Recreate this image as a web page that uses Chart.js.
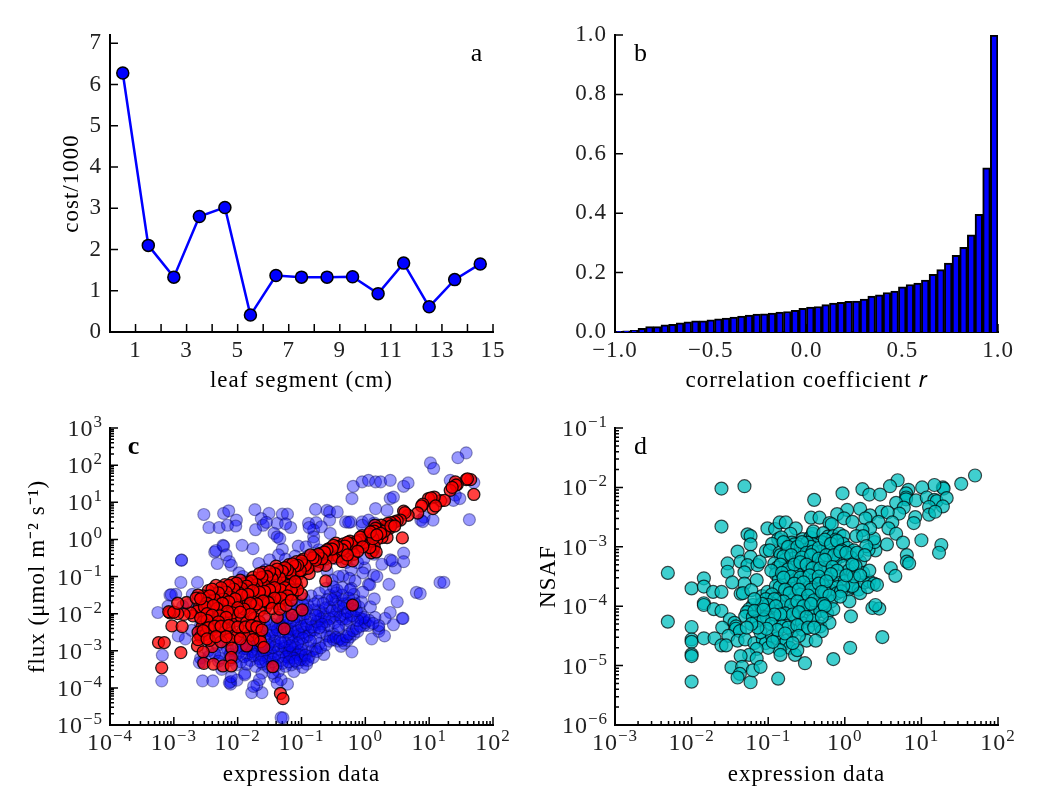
<!DOCTYPE html>
<html>
<head>
<meta charset="utf-8">
<title>Leaf figure</title>
<script src="https://cdn.jsdelivr.net/npm/chart.js@4/dist/chart.umd.min.js"></script>
<style>
  body { margin: 0; background: #fff; width: 1038px; height: 810px; position: relative; overflow: hidden; }
  canvas { position: absolute; }
</style>
</head>
<body>
<canvas id="panelA" width="519" height="405" style="left:0;top:0"></canvas>
<canvas id="panelB" width="519" height="405" style="left:519px;top:0"></canvas>
<canvas id="panelC" width="519" height="405" style="left:0;top:405px"></canvas>
<canvas id="panelD" width="519" height="405" style="left:519px;top:405px"></canvas>
<script>
// panel a
const segmentMid = [0.5,1.5,2.5,3.5,4.5,5.5,6.5,7.5,8.5,9.5,10.5,11.5,12.5,13.5,14.5];
const segmentCost = [6.28,2.10,1.33,2.80,3.02,0.41,1.37,1.33,1.33,1.34,0.93,1.67,0.61,1.27,1.65];
const segmentTicks = [1,2,3,4,5,6,7,8,9,10,11,12,13,14,15];
const costTicks = [0,1,2,3,4,5,6,7];

// panel b
const corrBins = [-0.98,-0.94,-0.90,-0.86,-0.82,-0.78,-0.74,-0.70,-0.66,-0.62,-0.58,-0.54,-0.50,-0.46,-0.42,-0.38,-0.34,-0.30,-0.26,-0.22,-0.18,-0.14,-0.10,-0.06,-0.02,
  0.02,0.06,0.10,0.14,0.18,0.22,0.26,0.30,0.34,0.38,0.42,0.46,0.50,0.54,0.58,0.62,0.66,0.70,0.74,0.78,0.82,0.86,0.90,0.94,0.98];
const corrHeights = [0.002,0.004,0.006,0.012,0.018,0.018,0.024,0.026,0.031,0.034,0.038,0.038,0.041,0.044,0.047,0.050,0.054,0.057,0.060,0.061,0.064,0.067,0.069,0.073,0.080,
  0.084,0.086,0.092,0.097,0.100,0.103,0.104,0.111,0.121,0.125,0.133,0.138,0.152,0.160,0.165,0.175,0.194,0.210,0.232,0.258,0.285,0.327,0.396,0.553,1.000];
const corrXTicks = [-1,-0.5,0,0.5,1];
const corrYTicks = [0,0.2,0.4,0.6,0.8,1];

// panels c and d, all pairs are [log10 expression, log10 value]
const fluxBlue = [[1.58,2.33],[1.45,2.20],[1.02,2.06],[1.07,1.91],[-0.19,1.43],[-0.05,1.55],[0.05,1.59],[0.16,1.55],[0.24,1.55],[0.39,1.59],[0.60,1.43],[0.67,1.52],[-0.21,1.10],[0.39,1.10],[0.44,1.14],[1.33,1.59],[1.70,1.53],[1.63,0.53],[1.41,1.19],[1.38,1.05],[1.48,1.10],
[0.16,0.83],[0.34,0.78],[-0.78,0.81],[-0.60,0.78],[-0.56,0.74],[-0.56,0.52],[-0.44,0.74],[-2.53,0.67],[-2.22,0.70],[-2.14,0.77],[-2.45,0.32],[-2.29,0.32],[-2.16,0.38],[-2.02,0.52],[-2.03,0.36],[-1.73,0.80],[-1.51,0.70],[-1.63,0.56],[-1.60,0.38],[-1.72,0.26],[-1.38,0.43],[-1.30,0.68],[-1.22,0.68],[-1.17,0.32],[-1.43,0.16],[-1.38,0.07],[-1.34,0.02],[-0.89,0.43],[-0.77,0.45],[-0.81,0.25],[-0.81,0.07],[-0.81,-0.07],[-0.55,0.16],[-0.31,0.47],[-0.23,0.47],[-0.05,0.47],[-0.05,0.38],[0.05,0.52],[-0.26,0.46],[-0.88,0.32],[-0.69,0.34],[-1.55,0.46],[-1.25,0.42],[0.14,0.44],[0.15,0.38],[0.87,0.52],[0.92,0.60],[1.06,0.52],[0.90,0.48],
[-2.23,-0.16],[-2.36,-0.34],[-2.22,-0.18],[-2.32,-0.65],[-2.34,-0.30],[-1.93,-0.16],[-1.76,-0.25],[-1.67,-0.65],[-2.88,-0.56],[-2.88,-0.56],[-2.89,-1.16],[-2.63,-1.16],[-3.06,-1.50],[-2.97,-1.48],[-3.04,-1.49],[-2.71,-1.48],[-3.25,-1.97],[-3.18,-3.12],[-3.19,-3.81],[-2.55,-3.81],[-2.39,-3.81],[-2.11,-3.83],[-2.11,-3.90],[-2.13,-3.86],[-2.01,-3.79],[-1.78,-4.13],[-1.62,-4.13],[-1.89,-3.61],[-1.89,-3.65],[-1.32,-4.80],[-1.29,-4.81],[-1.22,-3.90],[-0.21,-3.03],[-0.65,-3.10],[0.50,-1.68],[0.80,-1.43],[0.86,-1.46],[1.17,-1.16],[1.23,-1.16],[0.37,-1.21],[0.05,-1.21],[0.07,-1.22],[0.13,-0.96],[0.18,-1.00],[0.58,-2.13],[0.59,-2.13],[0.39,-1.97],[0.31,-2.13],[0.21,-2.48],[0.21,-2.40],[0.21,-2.32],[0.15,-2.10],[0.05,-2.32],[-0.08,-2.13],
[0.60,-0.37],[0.60,-0.60],[0.47,-0.77],[0.39,-0.55],[0.26,-0.67],[-0.01,-0.77],[-0.12,-0.63],[0.42,-0.58],[0.14,-0.40],[-0.04,-0.90],[-0.22,-0.82],[-0.35,-0.98],[-0.42,-1.00],[-0.25,-1.05],[-0.60,-0.85],[-0.52,-1.10],[-0.16,-1.12],[-0.22,-1.32],[-1.30,-0.27],[-1.36,-0.42],[-1.25,-0.53],[-1.50,-0.55],[-1.20,-0.70],[-1.05,-0.18],[-0.93,-0.20],[-0.90,-0.45],[-0.73,-0.28],[-0.68,-0.37],[-2.18,-0.42],[-2.10,-0.70],[-2.13,-0.60],[-1.98,-0.90],[-1.92,-1.00],[-1.85,-1.12],[-1.56,-0.82],[-2.78,-1.76],[-2.86,-1.80],[-2.62,-1.86],[-3.09,-1.80],[-2.93,-2.60],[-2.82,-2.68],[-2.58,-3.20],[-2.54,-3.30],[-2.60,-3.32],[-2.25,-3.50],[-2.10,-3.70],[-1.62,-3.60],[-1.70,-3.92],[-1.66,-3.78],[-1.75,-3.96],[-1.42,-3.70],[-1.36,-3.55],[-1.32,-3.78],[-1.12,-3.56],
[-0.44,-1.37],[-0.47,-1.55],[-0.46,-1.68],[-0.56,-1.50],[-0.60,-1.62],[-0.36,-1.64],[-0.28,-1.72],[-0.18,-1.48],[-0.18,-1.63],[-0.10,-1.82],[-0.22,-1.88],[-0.34,-1.86],[-0.44,-1.92],[-0.56,-1.83],[-0.46,-2.02],[-0.32,-2.00],[-0.18,-2.07],[-0.07,-2.00],[-0.04,-2.15],[-0.24,-2.22],[-0.36,-2.15],[-0.50,-2.10],[-0.66,-1.98],[-0.74,-2.06],[-0.62,-2.22],[-0.80,-1.90],[-0.90,-1.78],[-1.02,-2.15],[-0.90,-2.22],[-0.78,-2.30],[-0.65,-2.36],[-0.55,-2.62],[-0.50,-2.55],[-0.44,-2.74],[-0.38,-2.88],[-0.33,-2.80],[-0.28,-2.72],[-0.24,-2.63],[-0.18,-2.55],[-0.12,-2.48],[-0.30,-2.30],[-0.42,-2.44],[-0.60,-2.60],[-0.72,-2.80],[-0.78,-2.95],[-0.84,-3.00],[-0.88,-3.15],[-0.96,-3.25],[-1.00,-3.14],[-1.10,-3.05],[-1.20,-3.20],
[-1.30,-2.50],[-1.42,-2.60],[-1.55,-2.70],[-1.18,-2.62],[-1.10,-2.48],[-1.22,-2.40],[-1.33,-2.28],[-1.04,-2.68],[-1.14,-2.78],[-1.28,-2.88],[-1.40,-2.85],[-1.50,-2.95],[-1.60,-3.02],[-1.72,-3.10],[-1.85,-3.12],[-1.98,-3.05],[-2.10,-3.00],[-1.90,-2.95],[-1.75,-2.88],[-1.22,-2.98],[-1.10,-2.90],[-0.98,-2.82],[-0.90,-2.92],[-1.04,-3.02],[-1.18,-3.10],[-1.30,-3.04],[-1.42,-3.14],[-1.52,-3.20],[-1.66,-3.22],[-1.80,-3.26],[-1.95,-3.30],[-2.12,-3.25],[-2.28,-3.20],[-2.45,-3.15],[-1.46,-3.30],[-1.32,-3.26],[-1.16,-3.38],[-1.06,-3.34],[-0.92,-3.36],[-1.25,-3.42],[-1.60,-3.36],[-1.72,-3.42],[-1.50,-2.45],[-1.62,-2.52],[-1.40,-2.36],[-1.30,-2.18],[-1.18,-2.25],[-1.08,-2.30],[-0.96,-2.40],[-0.86,-2.48],[-0.92,-2.62],[-0.98,-2.12],[-1.14,-2.02],[-1.26,-2.10],[-1.38,-2.18],[-1.58,-2.32],[-1.68,-2.20],[-1.78,-2.42],[-1.85,-2.60],[-1.70,-2.65],[-1.95,-2.72],[-2.05,-2.60],[-2.20,-2.75],[-2.32,-2.86],[-2.46,-3.00],
[-0.85,-1.52],[-0.96,-1.60],[-1.08,-1.68],[-0.72,-1.45],[-0.62,-1.32],[-0.74,-1.66],[-1.18,-1.85],[-1.30,-1.95],[-1.50,-1.72],[-1.68,-1.60],[-1.88,-1.82],[-2.05,-1.92],[-2.25,-2.02],[-2.42,-2.15],[-2.58,-2.30],[-2.40,-1.62],[-2.20,-1.48],[-1.98,-1.28],[-2.60,-2.55],[-2.72,-2.45],[-2.30,-2.45],[-2.10,-2.25],[-1.92,-2.18],[-0.98,-3.45],[-1.38,-3.88],[-1.45,-3.60],[-0.02,-0.52],[-0.30,-0.62],[-0.46,-0.52],[-0.72,-0.70],[-0.92,-0.62],[-1.10,-0.45],[-1.18,-1.02],[-1.38,-1.10],[0.44,-2.30],[0.30,-2.60],[0.10,-2.68],[-0.02,-2.32]];

// the dark part of the blue cloud, under the red band
const fluxBlueDense = [[-1.86,-2.95],[-1.78,-3.02],[-1.70,-2.96],[-1.62,-2.90],[-1.56,-2.98],[-1.48,-3.06],[-1.44,-2.92],[-1.36,-2.96],[-1.26,-2.92],[-1.20,-3.04],[-1.14,-2.96],[-1.06,-3.10],[-1.00,-2.98],[-1.42,-2.74],[-1.34,-2.66],[-1.26,-2.76],[-1.20,-2.68],[-1.12,-2.62],[-1.04,-2.56],[-0.96,-2.50],[-0.88,-2.58],[-0.80,-2.44],[-1.50,-2.60],[-1.46,-2.50],[-1.38,-2.44],[-1.30,-2.36],[-1.22,-2.50],[-1.16,-2.42],[-1.06,-2.46],[-1.00,-2.34],[-0.92,-2.30],[-0.84,-2.36],[-0.76,-2.22],[-0.70,-2.14],[-0.64,-2.08],[-0.86,-2.14],[-0.94,-2.00],[-1.08,-2.08],[-1.00,-1.92],[-1.58,-2.62],[-1.66,-2.74],[-1.74,-2.78],[-1.82,-2.84],[-1.94,-2.86],[-2.02,-2.92],[-2.16,-2.94],[-2.26,-3.06],[-2.36,-3.08],[-2.04,-3.18],[-1.90,-3.16],[-1.76,-3.14],[-1.62,-3.12],[-1.56,-3.28],[-1.44,-3.22],[-1.36,-3.18],[-1.24,-3.16],[-1.12,-3.20],[-1.02,-3.24],[-0.94,-3.12],[-1.30,-3.34],[-1.40,-3.40],[-1.52,-3.44],[-1.20,-3.30],[-1.10,-3.28],[-1.64,-3.30],[-1.86,-3.36],[-2.02,-3.38],[-0.82,-3.18],[-0.90,-3.26],[-0.76,-3.02],[-0.70,-2.92],[-0.62,-2.84],[-0.56,-2.74],[-0.50,-2.70],[-0.46,-2.64],[-0.40,-2.68],[-0.36,-2.72],[-0.30,-2.62],[-0.26,-2.55],[-0.20,-2.46],[-0.14,-2.40],[-0.08,-2.34],[0.00,-2.24],[0.06,-2.18],[0.12,-2.26],[-0.02,-2.10],[-0.12,-2.18],[-0.22,-2.06],[-0.30,-2.14],[-0.40,-2.08],[-0.48,-2.24],[-0.56,-2.14],[-0.58,-2.32],[-0.68,-2.28],[-0.72,-1.92],[-0.62,-1.84],[-0.52,-1.92],[-0.42,-1.80],[-0.34,-1.74],[-0.28,-1.96],[-0.14,-1.92],[-0.06,-1.68],[-0.16,-1.74],[-0.26,-1.58],[-0.36,-1.50],[-0.46,-1.44],[-0.24,-1.36],[-0.36,-1.30],[-0.50,-1.28],[0.08,-1.82],[0.14,-1.60],[-0.04,-1.42],[-0.42,-2.34],[-0.70,-2.50],[-0.78,-2.66],[-0.86,-2.74],[-0.98,-2.66],[-1.06,-2.80],[-1.18,-2.86],[-1.32,-2.78],[-1.52,-2.84],[-1.64,-2.86],[-2.12,-3.10],[-2.30,-3.28],[-1.46,-2.28],[-1.56,-2.18],[-1.12,-2.18],[-1.20,-2.12],[-0.78,-2.04],[-0.72,-2.38],[-0.92,-1.88],[-0.52,-1.62],[-0.66,-1.72],[-0.80,-1.74],[-0.98,-1.76],[-1.16,-1.74]];

const fluxRed = [[1.70,1.21],[1.65,1.61],[1.58,1.61],[1.60,1.63],[1.44,1.48],[1.41,1.55],[1.42,1.46],[1.33,1.32],[1.36,1.40],[1.18,1.04],[1.24,1.05],[1.08,1.14],[0.99,1.10],[1.03,1.12],[1.06,0.83],[1.10,0.90],[0.90,0.95],[0.88,0.90],[0.82,0.71],[0.67,0.65],[0.60,0.76],[0.62,0.72],[0.55,0.52],[0.50,0.50],[0.46,0.47],[0.58,0.04],[0.40,0.45],[0.38,0.30],[0.35,0.43],[0.30,0.33],[0.28,0.28],[0.25,0.38],[0.22,0.26],[0.34,0.05],[0.26,0.05],[0.20,0.20],[0.18,0.00],[0.15,0.38],[0.16,0.30],[0.14,0.22],[0.10,0.10],[0.12,-0.30],[0.14,-0.20],[0.02,0.05],[-0.02,0.02],[-0.05,0.10],[0.02,-0.10],[0.05,-0.12],[0.09,-0.36],[0.17,-0.34],[0.07,-0.22],
[-0.10,-0.15],[-0.13,-0.22],[-0.17,-0.10],[-0.20,-0.22],[-0.23,-0.30],[-0.27,-0.20],[-0.30,-0.26],[-0.33,-0.38],[-0.38,-0.22],[-0.42,-0.32],[-0.46,-0.28],[-0.50,-0.42],[-0.54,-0.30],[-0.58,-0.36],[-0.62,-0.52],[-0.66,-0.44],[-0.70,-0.38],[-0.72,-0.60],[-0.76,-0.50],[-0.80,-0.44],[-0.84,-0.58],[-0.88,-0.72],[-0.92,-0.62],[-0.97,-0.53],[-1.00,-0.66],[-1.04,-0.74],[-1.08,-0.60],[-1.12,-0.84],[-1.16,-0.78],[-1.20,-0.68],[-1.25,-0.92],[-1.28,-0.78],[-1.32,-0.95],[-1.36,-0.88],[-1.40,-0.72],[-0.46,-0.10],[-0.40,-0.18],[-0.34,-0.12],[-0.56,-0.24],[-0.24,-0.05],[-0.18,-0.40],[-0.30,-0.52],[-0.42,-0.46],[-0.20,-0.58],[-0.52,-0.50],[-0.36,-0.60],[-0.62,-0.70],[-0.62,-1.12],[-0.20,-1.77],[-0.75,-0.72],[-0.88,-0.92],[-0.98,-0.82],[-1.06,-0.96],
[-1.12,-1.05],[-1.18,-1.12],[-1.24,-1.00],[-1.30,-1.16],[-1.34,-1.25],[-1.40,-1.02],[-1.44,-1.14],[-1.48,-0.96],[-1.52,-1.22],[-1.56,-1.08],[-1.60,-0.88],[-1.64,-1.18],[-1.68,-1.28],[-1.72,-1.10],[-1.76,-1.02],[-1.80,-1.24],[-1.84,-1.16],[-1.88,-1.34],[-1.92,-1.20],[-1.96,-1.10],[-2.00,-1.28],[-2.04,-1.44],[-2.08,-1.16],[-2.12,-1.30],[-2.15,-1.48],[-2.20,-1.22],[-2.24,-1.38],[-2.28,-1.56],[-2.34,-1.24],[-2.38,-1.46],[-2.42,-1.62],[-2.46,-1.38],[-2.50,-1.54],[-2.56,-1.70],[-2.60,-1.82],[-2.54,-1.52],
[-1.30,-1.44],[-1.38,-1.50],[-1.46,-1.42],[-1.54,-1.56],[-1.62,-1.48],[-1.70,-1.62],[-1.78,-1.52],[-1.85,-1.68],[-1.92,-1.58],[-1.08,-1.22],[-1.00,-1.16],[-1.00,-1.48],[-1.14,-1.48],[-1.25,-1.62],[-1.36,-1.74],[-1.46,-1.70],[-1.56,-1.84],[-1.66,-1.92],[-1.74,-1.80],[-1.84,-1.92],[-1.94,-1.78],[-2.02,-1.70],[-2.10,-1.88],[-2.18,-1.76],[-2.26,-1.92],[-2.34,-1.74],[-2.44,-1.90],[-2.52,-2.08],[-2.64,-1.94],[-2.70,-2.06],[-2.74,-1.98],[-2.84,-2.02],[-2.94,-2.00],[-3.06,-1.98],[-3.08,-1.95],[-3.00,-1.96],[-2.80,-1.70],[-2.62,-1.50],[-2.54,-2.22],[-2.56,-2.36],[-2.42,-2.24],[-2.34,-2.10],[-2.22,-2.22],[-2.12,-2.08],[-2.04,-2.20],[-1.94,-2.10],[-1.86,-2.24],[-1.74,-2.12],[-1.66,-2.22],[-1.58,-2.08],[-1.15,-2.04],[-0.99,-1.90],[-1.38,-2.10],[-1.27,-2.41],
[-2.62,-2.50],[-2.58,-2.62],[-2.50,-2.56],[-2.40,-2.44],[-2.30,-2.58],[-2.20,-2.42],[-2.10,-2.52],[-2.02,-2.62],[-1.92,-2.48],[-1.82,-2.60],[-1.72,-2.50],[-1.66,-2.66],[-2.13,-2.69],[-2.40,-2.89],[-2.63,-2.87],[-2.54,-3.03],[-2.09,-2.93],[-1.86,-2.87],[-1.64,-2.76],[-1.59,-2.91],[-2.62,-2.70],[-2.44,-2.72],[-2.26,-2.76],[-2.10,-3.18],[-2.53,-3.34],[-2.38,-3.36],[-2.23,-3.41],[-2.10,-3.41],[-1.45,-3.43],[-1.33,-4.15],[-1.29,-4.29],[-3.24,-2.78],[-3.15,-2.78],[-3.03,-2.33],[-2.87,-2.35],[-3.19,-3.46],[-2.89,-3.05],[-2.94,-1.72],[-2.65,-1.58]];

// more of the thick part of the red band
const fluxRedDense = [[-0.02,-0.08],[-0.08,-0.02],[-0.14,-0.06],[-0.22,-0.12],[-0.28,-0.08],[-0.32,-0.18],[-0.36,-0.28],[-0.44,-0.20],[-0.50,-0.16],[-0.52,-0.26],[-0.60,-0.28],[-0.64,-0.34],[-0.68,-0.52],[-0.74,-0.40],[-0.78,-0.56],[-0.82,-0.50],[-0.86,-0.42],[-0.90,-0.78],[-0.94,-0.70],[-1.00,-0.58],[-1.02,-0.84],[-1.06,-0.70],[-1.10,-0.72],[-1.14,-0.66],[-1.18,-0.90],[-1.22,-0.82],[-1.26,-0.76],[-1.30,-0.86],[-1.34,-1.04],[-1.38,-0.80],[-1.42,-0.92],[-1.46,-1.06],[-1.50,-0.86],[-1.54,-1.00],[-1.58,-1.24],[-1.62,-1.02],[-1.66,-0.92],[-1.70,-1.22],[-1.74,-1.32],[-1.78,-1.12],[-1.82,-1.38],[-1.86,-1.26],[-1.90,-1.44],[-1.94,-1.32],[-1.98,-1.44],[-2.02,-1.18],[-2.06,-1.34],[-2.10,-1.56],[-2.14,-1.24],[-2.18,-1.42],[-2.22,-1.60],[-2.26,-1.30],[-2.30,-1.44],[-2.36,-1.62],[-2.40,-1.34],[-2.44,-1.52],[-2.48,-1.72],[-2.52,-1.82],[-2.58,-1.60],[-1.20,-1.24],[-1.26,-1.30],[-1.32,-1.36],[-1.42,-1.30],[-1.50,-1.36],[-1.58,-1.40],[-1.66,-1.42],[-1.76,-1.38],[-1.84,-1.48],[-1.94,-1.50],[-2.04,-1.60],[-2.14,-1.68],[-2.24,-1.72],[-2.32,-1.86],[-2.38,-1.78],[-2.48,-2.00],[-1.06,-1.36],[-1.16,-1.36],[-1.10,-1.14],[-1.22,-1.52],[-1.32,-1.58],[-1.42,-1.58],[-1.52,-1.70],[-1.60,-1.66],[-1.70,-1.74],[-1.80,-1.72],[-1.90,-1.88],[-2.00,-1.84],[-2.08,-1.98],[-2.16,-1.94],[-2.28,-2.06],[-2.40,-2.04],[-2.48,-2.18],[-2.58,-2.12],[-1.46,-1.86],[-1.34,-1.88],[-1.24,-1.78],[-1.16,-1.64],[-1.80,-2.02],[-1.96,-1.96],[-2.18,-2.10],[-2.30,-2.22],[-2.46,-2.38],[-2.36,-2.34],[-2.26,-2.34],[-2.14,-2.32],[-2.00,-2.36],[-1.88,-2.36],[-1.78,-2.32],[-1.70,-2.36],[-1.62,-2.44],[-2.54,-2.46],[-2.48,-2.68],[-2.34,-2.62],[-2.18,-2.62],[-1.96,-2.68],[-1.76,-2.70],[0.30,0.22],[0.24,0.16],[0.06,0.14],[-0.08,0.06],[0.40,0.36],[0.46,0.36],[0.12,0.02],[-0.04,-0.20],[-0.12,-0.32],[-0.28,-0.42],[0.08,0.20],[0.18,0.12]];

const nsafTeal = [[1.70,-1.80],[1.52,-1.94],[1.28,-2.00],[1.29,-2.02],[1.17,-1.96],[1.01,-2.00],[0.69,-1.88],[0.59,-1.98],[0.83,-2.04],[0.80,-2.10],[0.80,-2.17],[0.80,-2.20],[0.67,-2.26],[0.93,-2.22],[1.07,-2.17],[1.17,-2.21],[1.20,-2.23],[1.33,-2.18],[1.28,-2.32],[1.10,-2.33],[1.10,-2.46],[1.18,-2.41],[0.77,-2.34],[0.71,-2.44],[0.92,-2.50],[0.90,-2.60],[0.23,-2.03],[0.32,-2.12],[0.46,-2.12],[-0.03,-2.10],[-0.40,-2.21],[0.20,-2.36],[0.03,-2.38],[-0.10,-2.45],[0.48,-2.41],[0.56,-2.42],[0.33,-2.47],[0.27,-2.52],[0.44,-2.58],[0.62,-2.59],[0.57,-2.69],[0.67,-2.78],[0.76,-2.93],[0.55,-2.96],[1.00,-2.89],[1.26,-2.97],[1.23,-3.10],[0.81,-3.14],[0.81,-3.25],[0.84,-3.28],[0.60,-3.36],[0.66,-3.49],[0.40,-3.06],[0.31,-3.05],[0.39,-2.92],[0.38,-2.86],[0.33,-2.69],[0.23,-2.72],[0.15,-2.82],[0.24,-2.82],[0.28,-2.99],[-0.01,-2.52],[0.10,-2.58],[-0.44,-2.51],[-0.33,-2.51],[-0.20,-2.60],[-0.17,-2.62],
[-1.01,-2.69],[-0.91,-2.70],[-0.85,-2.59],[-0.77,-2.59],[-0.64,-2.69],[-0.71,-2.78],[-1.27,-2.79],[-1.23,-2.82],[-1.23,-2.96],[-1.40,-3.08],[-1.53,-3.28],[-1.53,-3.42],[-1.36,-3.25],[-1.23,-3.17],[-1.27,-3.31],[-1.31,-3.43],[-1.14,-3.31],[-1.11,-3.25],[-1.03,-3.07],[-1.15,-3.56],[-1.31,-3.62],[-1.36,-3.79],[-1.33,-3.78],[-1.22,-3.73],[-1.08,-3.83],[-1.01,-3.76],[-2.31,-3.44],[-2.31,-4.26],[-2.00,-3.70],[-2.00,-4.35],[-2.00,-4.56],[-2.00,-4.60],[-2.00,-4.81],[-2.00,-4.84],[-2.00,-5.27],[-1.61,-2.02],[-1.31,-1.98],[-1.61,-2.66],[-1.84,-3.53],[-1.84,-3.67],[-1.84,-3.95],[-1.84,-3.98],[-1.84,-4.54],[-1.71,-4.05],[-1.61,-4.08],[-1.72,-3.76],[-1.61,-3.76],[-1.47,-3.60],
[-0.87,-2.87],[-0.83,-2.84],[-0.55,-2.87],[-0.60,-2.96],[-0.69,-2.93],[-0.66,-2.96],[-0.45,-2.84],[-0.42,-2.78],[-0.41,-2.74],[-0.28,-2.77],[-0.22,-2.83],[-0.15,-2.82],[-0.07,-2.78],[-0.12,-2.88],[-0.02,-2.82],[-0.30,-2.92],[-0.41,-2.96],[-0.49,-2.93],[-0.95,-2.95],[-0.98,-3.06],[-0.85,-3.10],[-0.84,-3.14],[-0.75,-3.03],[-0.68,-3.06],[-0.60,-3.12],[-0.52,-3.05],[-0.44,-3.00],[-0.36,-3.12],[-0.31,-3.08],[-0.22,-3.02],[-0.16,-3.10],[-0.08,-3.02],[-0.02,-2.95],[0.04,-3.02],[0.07,-3.10],[0.12,-3.06],[-0.05,-3.16],[0.08,-3.18],[-0.92,-3.28],[-0.88,-3.35],[-0.78,-3.22],[-0.72,-3.32],[-0.62,-3.25],[-0.55,-3.34],[-0.47,-3.22],[-0.38,-3.30],[-0.30,-3.20],[-0.20,-3.28],[-0.12,-3.22],[-0.02,-3.32],[0.20,-3.25],[0.05,-3.40],[0.10,-3.46],[-0.22,-3.40],[-0.36,-3.44],[-0.52,-3.42],[-0.62,-3.46],[-0.75,-3.44],[-0.90,-3.46],
[-0.86,-3.55],[-0.78,-3.60],[-0.62,-3.58],[-0.50,-3.52],[-0.40,-3.55],[-0.30,-3.58],[-0.22,-3.52],[-0.14,-3.62],[-0.08,-3.50],[0.00,-3.58],[-0.90,-3.66],[-0.85,-3.68],[-0.70,-3.70],[-0.62,-3.66],[-0.54,-3.76],[-0.45,-3.64],[-0.38,-3.72],[-0.28,-3.66],[-0.18,-3.74],[-0.10,-3.68],[-0.10,-3.78],[0.05,-3.72],[0.10,-3.68],[0.18,-3.72],[0.20,-3.78],[0.10,-3.66],[0.06,-3.92],[-0.05,-3.75],[0.26,-3.60],[0.32,-3.58],[0.38,-3.62],[0.30,-3.68],[0.42,-3.64],[0.24,-3.44],[0.32,-3.40],[0.12,-3.50],[0.36,-4.03],[0.45,-4.04],[0.40,-3.98],[0.08,-4.17],[0.49,-4.52],[0.07,-4.70],
[-0.95,-3.80],[-0.86,-3.88],[-0.75,-3.82],[-0.68,-3.90],[-0.58,-3.80],[-0.50,-3.92],[-0.42,-3.82],[-0.34,-3.90],[-0.25,-3.85],[-0.18,-3.92],[-0.36,-3.98],[-0.95,-3.96],[-1.03,-3.88],[-1.12,-4.00],[-1.20,-3.98],[-1.25,-4.05],[-1.08,-4.10],[-0.98,-4.02],[-0.88,-4.08],[-0.82,-4.02],[-0.72,-4.08],[-0.62,-4.00],[-0.54,-4.12],[-0.46,-4.05],[-0.40,-4.15],[-0.32,-4.08],[-0.23,-4.12],[-0.15,-4.05],[-1.28,-4.10],[-1.30,-4.17],[-1.20,-4.18],[-1.15,-4.25],[-1.02,-4.18],[-0.95,-4.24],[-0.84,-4.22],[-0.76,-4.28],[-0.65,-4.20],[-0.56,-4.28],[-0.42,-4.24],[-0.32,-4.34],[-0.20,-4.28],[-0.30,-4.42],[-1.50,-4.22],[-1.44,-4.28],[-1.42,-4.34],[-1.42,-4.38],[-1.37,-4.42],[-1.60,-4.36],[-1.52,-4.50],[-1.70,-4.54],[-1.61,-4.66],[-1.55,-4.66],[-1.40,-4.58],[-1.30,-4.56],[-1.18,-4.62],[-1.07,-4.56],[-1.03,-4.62],[-1.10,-4.44],[-0.95,-4.50],[-0.88,-4.54],[-0.80,-4.64],[-0.76,-4.58],[-0.68,-4.42],[-0.55,-4.40],[-0.50,-4.58],[-0.38,-4.58],[-0.72,-4.70],[-0.85,-4.74],[-1.00,-4.70],[-1.15,-4.72],[-0.65,-4.82],[-0.84,-4.82],[-0.62,-4.74],[-1.25,-4.82],[-1.15,-4.88],[-0.15,-4.89],[-0.52,-4.96],[-1.36,-4.84],[-1.48,-5.03],[-1.34,-5.02],[-1.37,-5.14],[-1.40,-5.20],[-1.23,-5.28],[-1.20,-5.08],[-1.10,-5.02],[-0.87,-5.22]];

// centre of the teal cloud
const nsafTealDense = [[-0.80,-2.92],[-0.74,-3.00],[-0.62,-3.00],[-0.56,-2.92],[-0.50,-3.10],[-0.42,-3.08],[-0.34,-3.02],[-0.26,-2.88],[-0.18,-2.95],[-0.10,-2.90],[-0.04,-3.06],[-0.80,-3.16],[-0.70,-3.14],[-0.56,-3.18],[-0.44,-3.14],[-0.34,-3.20],[-0.24,-3.14],[-0.14,-3.14],[-0.06,-3.08],[0.02,-3.10],[-0.84,-3.30],[-0.74,-3.38],[-0.66,-3.30],[-0.58,-3.26],[-0.50,-3.30],[-0.42,-3.36],[-0.32,-3.36],[-0.26,-3.22],[-0.16,-3.34],[-0.10,-3.40],[-0.96,-3.40],[-0.82,-3.44],[-0.70,-3.50],[-0.58,-3.52],[-0.46,-3.48],[-0.34,-3.50],[-0.18,-3.46],[-0.80,-3.52],[-0.66,-3.62],[-0.54,-3.60],[-0.44,-3.72],[-0.34,-3.62],[-0.26,-3.76],[-0.24,-3.58],[-0.02,-3.66],[-0.06,-3.84],[-0.78,-3.72],[-0.72,-3.78],[-0.60,-3.72],[-0.48,-3.82],[-0.40,-3.90],[-0.30,-3.76],[-0.20,-3.82],[-0.80,-3.92],[-0.70,-3.98],[-0.62,-3.92],[-0.54,-4.00],[-0.44,-3.96],[-0.28,-3.96],[-0.92,-3.88],[-1.00,-3.98],[-0.90,-4.00],[-0.78,-4.12],[-0.68,-4.14],[-0.60,-4.10],[-0.50,-4.18],[-0.84,-4.14],[-0.92,-4.14],[-1.06,-4.22],[-0.96,-4.30],[-0.82,-4.34],[-0.74,-4.36],[-0.62,-4.32],[-0.48,-4.36],[-0.40,-4.36],[-0.88,-4.40],[-0.78,-4.46],[-1.02,-4.38],[-1.14,-4.36],[-1.22,-4.30],[-1.28,-4.36],[-0.94,-4.60],[-0.60,-4.50],[-0.68,-4.62],[0.14,-3.32],[0.10,-3.30],[0.16,-3.10],[0.20,-3.48],[0.26,-3.14],[0.02,-3.48],[-1.08,-3.96],[-1.18,-3.88],[-1.18,-4.08],[-1.06,-4.06],[-0.26,-4.00],[-0.30,-4.18]];

const fluxXDecades = [-4,-3,-2,-1,0,1,2];
const fluxYDecades = [-5,-4,-3,-2,-1,0,1,2,3];
const nsafXDecades = [-3,-2,-1,0,1,2];
const nsafYDecades = [-6,-5,-4,-3,-2,-1];

const textFont = { family: '"Liberation Serif", serif', size: 23 };

// ticks go inside the axes, chart.js only draws them outside
const axisExtras = {
  id: 'axisExtras',
  beforeDraw(chart) { chart.ctx.letterSpacing = '1px'; },
  beforeDatasetsDraw(chart) {
    const c = chart.ctx, area = chart.chartArea;
    c.save();
    c.strokeStyle = '#000';
    c.lineWidth = 1.5;
    c.beginPath();
    ['x','y'].forEach(id => {
      const s = chart.scales[id];
      s.ticks.forEach(t => {
        const p = s.getPixelForValue(t.value);
        const len = t.short ? 4 : 8;
        if (id === 'x') { c.moveTo(p, area.bottom); c.lineTo(p, area.bottom - len); }
        else { c.moveTo(area.left, p); c.lineTo(area.left + len, p); }
      });
    });
    c.stroke();
    c.restore();
  },
  afterDraw(chart, args, opts) {
    const c = chart.ctx, area = chart.chartArea;
    c.save();
    c.fillStyle = '#000';
    c.font = (opts.bold ? 'bold ' : '') + '26px "Liberation Serif", serif';
    c.textAlign = 'center';
    c.textBaseline = 'middle';
    c.fillText(opts.letter, opts.x, opts.y);

    // 10 with a raised exponent on the log axes
    ['x','y'].forEach(id => {
      const s = chart.scales[id];
      if (s.type !== 'logarithmic') return;
      s.ticks.forEach(t => {
        if (t.short) return;
        const exp = Math.round(Math.log10(t.value));
        const expText = (exp < 0 ? '−' : '') + Math.abs(exp);
        c.textAlign = 'left';
        c.textBaseline = 'alphabetic';
        c.fillStyle = '#222';
        c.font = '24px "Liberation Serif", serif';
        const w10 = c.measureText('10').width;
        c.font = '17px "Liberation Serif", serif';
        const wExp = c.measureText(expText).width;
        const p = s.getPixelForValue(t.value);
        let left, base;
        if (id === 'x') { left = p - (w10 + wExp) / 2; base = area.bottom + 25; }
        else { left = area.left - 7 - w10 - wExp; base = p + 8; }
        c.font = '24px "Liberation Serif", serif';
        c.fillText('10', left, base);
        c.font = '17px "Liberation Serif", serif';
        c.fillText(expText, left + w10, base - 9);
      });
    });
    c.restore();
  }
};

function setTicks(values, shortFn) {
  return scale => { scale.ticks = values.map(v => ({ value: v, short: shortFn ? shortFn(v) : false })); };
}

// 1..9 per decade for the log axes
function logTickValues(decades) {
  const out = [];
  for (let i = 0; i < decades.length - 1; i++) {
    for (let m = 1; m < 10; m++) out.push(m * Math.pow(10, decades[i]));
  }
  out.push(Math.pow(10, decades[decades.length - 1]));
  return out;
}
const isDecade = v => Math.abs(Math.log10(v) - Math.round(Math.log10(v))) < 1e-6;

function baseAxis(title, titlePad, tickPad) {
  return {
    grid: { display: false },
    border: { display: true, color: '#000', width: 2 },
    ticks: { color: '#222', font: textFont, padding: tickPad, autoSkip: false, maxRotation: 0, minRotation: 0 },
    title: { display: !!title, text: title, color: '#000', font: textFont, padding: titlePad }
  };
}

function logAxis(decades, title, titlePad, fixed, isX) {
  const axis = baseAxis(title, titlePad, 0);
  axis.type = 'logarithmic';
  axis.min = Math.pow(10, decades[0]);
  axis.max = Math.pow(10, decades[decades.length - 1]);
  axis.afterBuildTicks = setTicks(logTickValues(decades), v => !isDecade(v));
  axis.ticks.display = false;
  axis.afterFit = s => { if (isX) s.height = fixed; else s.width = fixed; };
  return axis;
}

function linAxis(min, max, values, fmt, title, titlePad, fixed, tickPad, isX) {
  const axis = baseAxis(title, titlePad, tickPad);
  axis.type = 'linear';
  axis.min = min;
  axis.max = max;
  axis.afterBuildTicks = setTicks(values);
  axis.ticks.callback = fmt;
  axis.afterFit = s => { if (isX) s.height = fixed; else s.width = fixed; };
  return axis;
}

function makeChart(id, type, datasets, x, y, padding, letter) {
  return new Chart(document.getElementById(id), {
    type: type,
    data: { datasets: datasets },
    plugins: [axisExtras],
    options: {
      responsive: false,
      animation: false,
      layout: { padding: padding },
      plugins: { legend: { display: false }, tooltip: { enabled: false }, axisExtras: letter },
      scales: { x: x, y: y }
    }
  });
}

const signed = v => (v < 0 ? '−' : '') + Math.abs(v).toFixed(1);
const toPoints = pairs => pairs.map(p => ({ x: Math.pow(10, p[0]), y: Math.pow(10, p[1]) }));

makeChart('panelA', 'line',
  [{ data: segmentMid.map((x, i) => ({ x: x, y: segmentCost[i] })), borderColor: '#0000ff', borderWidth: 2.5,
     pointBackgroundColor: '#0000ff', pointBorderColor: '#000', pointBorderWidth: 1.5, pointRadius: 6, tension: 0, clip: false }],
  linAxis(0, 15, segmentTicks, v => v % 2 ? String(v) : '', 'leaf segment (cm)', { top: 0, bottom: 10 }, 73, -3, true),
  linAxis(0, 7.2, costTicks, v => String(v), 'cost/1000', { top: 58, bottom: 0 }, 110, 0, false),
  { top: 35, right: 26 }, { letter: 'a', x: 477, y: 54 });

makeChart('panelB', 'bar',
  [{ data: corrBins.map((x, i) => ({ x: x, y: corrHeights[i] })), backgroundColor: '#0000ff', borderColor: '#000', borderWidth: 2,
     barPercentage: 1, categoryPercentage: 1 }],
  Object.assign(linAxis(-1, 1, corrXTicks, signed, 'correlation coefficient 𝑟', { top: 0, bottom: 10 }, 73, -3, true), { offset: false }),
  linAxis(0, 1, corrYTicks, v => v.toFixed(1), '', 0, 96, 0, false),
  { top: 35, right: 40 }, { letter: 'b', x: 122, y: 54 });

makeChart('panelC', 'scatter',
  [{ data: toPoints(fluxRed.concat(fluxRedDense)), backgroundColor: 'rgba(255,0,0,0.75)', borderColor: 'rgba(0,0,0,0.85)', borderWidth: 1.3, pointRadius: 6, clip: false },
   { data: toPoints(fluxBlue.concat(fluxBlueDense)), backgroundColor: 'rgba(0,0,255,0.4)', borderColor: 'rgba(0,0,80,0.4)', borderWidth: 1.2, pointRadius: 6, clip: false }],
  logAxis(fluxXDecades, 'expression data', { top: 0, bottom: 21 }, 85, true),
  logAxis(fluxYDecades, 'flux (μmol m⁻² s⁻¹)', { top: 24, bottom: 0 }, 110, false),
  { top: 23, right: 26 }, { letter: 'c', x: 134, y: 42, bold: true });

makeChart('panelD', 'scatter',
  [{ data: toPoints(nsafTeal.concat(nsafTealDense)), backgroundColor: 'rgba(0,191,191,0.75)', borderColor: 'rgba(0,0,0,0.7)', borderWidth: 1.2, pointRadius: 6.5, clip: false }],
  logAxis(nsafXDecades, 'expression data', { top: 0, bottom: 21 }, 85, true),
  logAxis(nsafYDecades, 'NSAF', { top: 16, bottom: 0 }, 96, false),
  { top: 23, right: 40 }, { letter: 'd', x: 122, y: 42 });
</script>
</body>
</html>
